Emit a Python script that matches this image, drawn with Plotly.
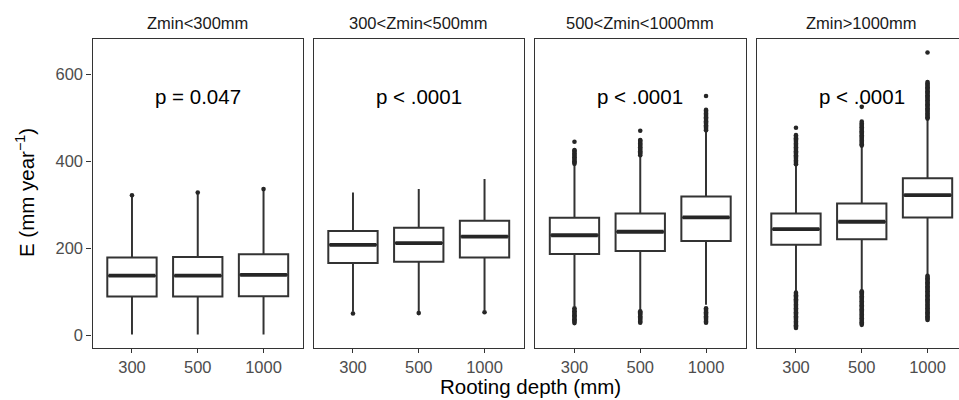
import plotly.graph_objects as go

# ---------------- data ----------------
groups = ["Zmin<300mm", "300<Zmin<500mm", "500<Zmin<1000mm", "Zmin>1000mm"]
depths = ["300", "500", "1000"]
p_labels = ["p = 0.047", "p < .0001", "p < .0001", "p < .0001"]

q1 = [[89, 89, 90], [166, 169, 179], [187, 194, 217], [208, 221, 271]]
med = [[137, 137, 139], [208, 212, 227], [230, 238, 271], [244, 261, 322]]
q3 = [[179, 180, 186], [240, 247, 263], [270, 280, 319], [280, 303, 361]]
lo_fence = [[2, 2, 2], [54, 55, 57], [66, 58, 70], [100, 104, 139]]
hi_fence = [[318, 324, 332], [328, 336, 359], [391, 411, 468], [390, 433, 495]]

outliers = [
    [[322], [328], [336]],
    [[50], [51], [53]],
    [
        [28, 31, 34, 37, 40, 43, 46, 49, 52, 55, 58, 62,
         394, 397, 400, 403, 406, 409, 412, 415, 418, 421, 424, 426, 445],
        [29, 32, 35, 38, 41, 44, 47, 50, 53, 55,
         414, 417, 420, 423, 426, 429, 432, 435, 438, 441, 444, 447, 449, 470],
        [29, 32, 35, 38, 41, 44, 47, 50, 53, 56, 59, 62,
         471, 474, 477, 480, 483, 486, 489, 492, 495, 498, 501, 504, 507, 510,
         513, 516, 518, 550],
    ],
    [
        [17, 20, 23, 26, 29, 32, 35, 38, 41, 44, 47, 50, 53, 56, 59, 62, 65, 68,
         71, 74, 77, 80, 83, 86, 89, 92, 95, 98,
         393, 396, 399, 402, 405, 408, 411, 414, 417, 420, 423, 426, 429, 432,
         435, 438, 441, 444, 447, 450, 453, 456, 460, 477],
        [24, 27, 30, 33, 36, 39, 42, 45, 48, 51, 54, 57, 60, 63, 66, 69, 72, 75,
         78, 81, 84, 87, 90, 93, 96, 99, 101,
         436, 439, 442, 445, 448, 451, 454, 457, 460, 463, 466, 469, 472, 475,
         478, 481, 484, 487, 491, 525],
        [35, 38, 41, 44, 47, 50, 53, 56, 59, 62, 65, 68, 71, 74, 77, 80, 83, 86,
         89, 92, 95, 98, 101, 104, 107, 110, 113, 116, 119, 122, 125, 128, 131,
         134, 137,
         498, 501, 504, 507, 510, 513, 516, 519, 522, 525, 528, 531, 534, 537,
         540, 543, 546, 549, 552, 555, 558, 561, 564, 567, 570, 573, 576, 579,
         582, 650],
    ],
]

# ---------------- layout geometry (pixels) ----------------
W, H = 959, 400
panel_left = [92.5, 313.5, 535.0, 756.5]
panel_w = 210.5
top_px, bot_px = 39.0, 347.7
unit_px = panel_w / 3.2
box_w = 0.75
y_range = [-28.5, 681]
line_col = "#333333"
FONT = "Liberation Sans, Arial, Helvetica, sans-serif"

fig = go.Figure()
layout = dict(
    width=W, height=H, margin=dict(l=0, r=0, t=0, b=0),
    paper_bgcolor="white", plot_bgcolor="white", showlegend=False,
    font=dict(family=FONT, color="#1a1a1a"),
)
annotations = []
positions = list(range(1, len(depths) + 1))

for g in range(len(groups)):
    ax = "" if g == 0 else str(g + 1)
    xref, yref = "x" + ax, "y" + ax
    left = panel_left[g]
    right = min(left + panel_w, W)
    x_hi = 0.4 + (right - left) / unit_px
    for i, pos in enumerate(positions):
        fig.add_trace(go.Box(
            x=[pos], q1=[q1[g][i]], median=[med[g][i]], q3=[q3[g][i]],
            lowerfence=[lo_fence[g][i]], upperfence=[hi_fence[g][i]],
            width=box_w, whiskerwidth=0, boxpoints=False,
            fillcolor="white", line=dict(color=line_col, width=2.0),
            xaxis=xref, yaxis=yref, hoverinfo="skip",
        ))
        fig.add_trace(go.Scatter(
            x=[pos - box_w / 2 + 0.02, pos + box_w / 2 - 0.02],
            y=[med[g][i], med[g][i]], mode="lines",
            line=dict(color="#262626", width=3.8),
            xaxis=xref, yaxis=yref, hoverinfo="skip",
        ))
        fig.add_trace(go.Scatter(
            x=[pos] * len(outliers[g][i]), y=outliers[g][i], mode="markers",
            marker=dict(color="#262626", size=4.6, line=dict(width=0)),
            xaxis=xref, yaxis=yref, hoverinfo="skip",
        ))
    annotations.append(dict(
        x=2, y=548, xref=xref, yref=yref, text=p_labels[g], showarrow=False,
        xanchor="center", yanchor="middle",
        font=dict(size=20.5, color="#000000", family=FONT),
    ))
    annotations.append(dict(
        x=(left + panel_w / 2) / W, y=(H - 22.5) / H, xref="paper",
        yref="paper", text=groups[g], showarrow=False,
        xanchor="center", yanchor="middle",
        font=dict(size=16.5, color="#1a1a1a", family=FONT),
    ))
    layout["xaxis" + ax] = dict(
        domain=[left / W, right / W], range=[0.4, x_hi],
        tickvals=positions, ticktext=depths, ticks="outside", ticklen=4,
        tickwidth=1.2, tickcolor=line_col, showgrid=False, zeroline=False,
        showline=True, mirror=True, linecolor=line_col, linewidth=1.3,
        tickfont=dict(size=16.5, color="#4d4d4d", family=FONT),
        anchor=yref, fixedrange=True,
    )
    layout["yaxis" + ax] = dict(
        domain=[(H - bot_px) / H, (H - top_px) / H], range=y_range,
        tickvals=[0, 200, 400, 600], showticklabels=(g == 0),
        ticks="outside" if g == 0 else "", ticklen=5, tickwidth=1.2,
        tickcolor=line_col, showgrid=False, zeroline=False,
        showline=True, mirror=(right < W), linecolor=line_col, linewidth=1.3,
        tickfont=dict(size=16.5, color="#4d4d4d", family=FONT),
        anchor=xref, fixedrange=True,
    )

annotations.append(dict(
    x=530 / W, y=0.5 / H, xref="paper", yref="paper",
    text="Rooting depth (mm)", showarrow=False,
    xanchor="center", yanchor="bottom",
    font=dict(size=20.5, color="#000000", family=FONT),
))
annotations.append(dict(
    x=25 / W, y=(H - 193) / H, xref="paper", yref="paper",
    text="E (mm year<sup>−1</sup>)", showarrow=False, textangle=-90,
    xanchor="center", yanchor="middle",
    font=dict(size=20.5, color="#000000", family=FONT),
))
layout["annotations"] = annotations
fig.update_layout(**layout)
fig.write_html("out.html")
